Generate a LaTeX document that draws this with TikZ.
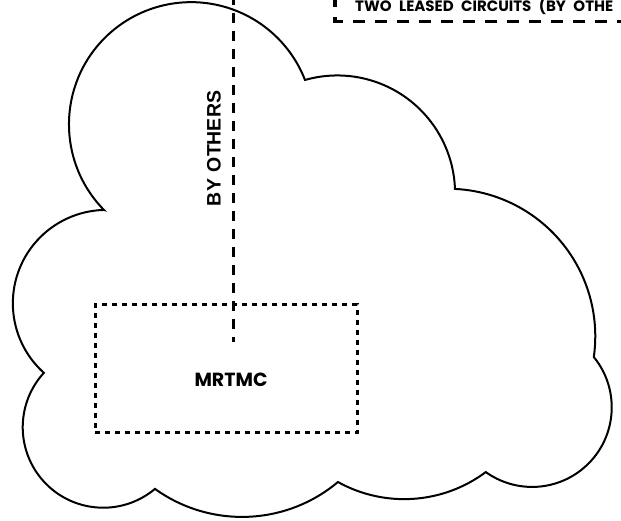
\documentclass[tikz,border=0pt]{standalone}
\usepackage{fontspec}
\newfontfamily\geofont{Poppins}
\newfontfamily\helvfont{Liberation Sans}
\begin{document}
\begin{tikzpicture}[x=1pt,y=1pt,
  cloudline/.style={line width=2pt, line join=miter},
  leasedline/.style={line width=3.2pt, dash pattern=on 12pt off 10pt},
  otherline/.style={line width=3pt, dash pattern=on 10pt off 8pt},
  sitebox/.style={draw, line width=3pt, dash pattern=on 5pt off 5pt,
    minimum width=262pt, minimum height=128pt, inner sep=0pt},
  geotext/.style={font=\geofont\bfseries\fontsize{15}{15}\selectfont, inner sep=0pt},
  sitetext/.style={font=\geofont\bfseries\fontsize{19}{19}\selectfont, inner sep=0pt},
  vtext/.style={font=\helvfont\bfseries\fontsize{19.5}{19.5}\selectfont, inner sep=0pt, rotate=90}]
\useasboundingbox[fill=white] (0,0) rectangle (621,521);

% cloud outline
\draw[cloudline] (104,311)
  arc[start angle=224.5, end angle=21.3, radius=122.2pt]
  arc[start angle=105.9, end angle=2.1, radius=117.8pt]
  arc[start angle=87.2, end angle=-8.1, radius=147.5pt]
  arc[start angle=39.2, end angle=-125.6, radius=79.6pt]
  arc[start angle=-53.3, end angle=-119.0, radius=136.6pt]
  arc[start angle=-50.0, end angle=-125.7, radius=149.2pt]
  arc[start angle=-50.0, end angle=-222.5, radius=80.5pt]
  arc[start angle=228.1, end angle=91.5, radius=93.4pt]
  -- cycle;

% MRTMC site
\node[sitebox] (site) at (226,152) {};
\node[sitetext] (mrtmc) at (231,141) {MRTMC};

% circuit by others
\coordinate (otherstop) at (233,526);
\coordinate (othersend) at (233,179);
\draw[otherline] (otherstop) -- (othersend);
\node[vtext] (byothers) at (214,372.5) {BY\hspace{0.35em}OTHERS};

% leased circuits bracket
\coordinate (leasedtop) at (335,526);
\coordinate (leasedcorner) at (335,499.5);
\coordinate (leasedend) at (640,499.5);
\draw[leasedline] (leasedtop) -- (leasedcorner) -- (leasedend);
\node[geotext, anchor=base west] (leased) at (355,509.5)
  {TWO\hspace{0.5em}LEASED\hspace{0.5em}CIRCUITS\hspace{0.5em}(BY\hspace{0.5em}OTHE};
\end{tikzpicture}
\end{document}
